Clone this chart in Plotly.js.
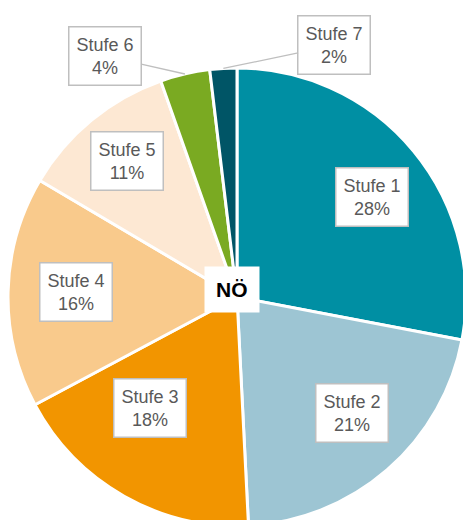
<!DOCTYPE html>
<html><head><meta charset="utf-8">
<script src="https://cdn.plot.ly/plotly-3.0.1.min.js"></script>
<style>html,body{margin:0;padding:0;overflow:hidden;background:#fff}</style>
</head><body><div id="chart" style="width:466px;height:526px"></div>
<script>
// ---- data ----
const categories = ["Stufe 1", "Stufe 2", "Stufe 3", "Stufe 4", "Stufe 5", "Stufe 6", "Stufe 7"];
const values = [28, 21.2, 18, 16.3, 11.1, 3.5, 1.9];
const percentLabels = ["28%", "21%", "18%", "16%", "11%", "4%", "2%"];
const centerLabel = "NÖ";

// ---- style / layout ----
const colors = ["#008FA3", "#9DC5D3", "#F29500", "#F9CA8C", "#FDE8D3", "#7AAA22", "#005566"];
const W = 466, H = 526, R = 229, CX = 237, CY = 297;
// label placement: [radius fraction, dx px, dy px, outside?]
const labelPlace = [
  [0.70, 11, 2, false], [0.70, 10, -5, false], [0.70, -8, -28, false],
  [0.70, -1, -1, false], [0.70, -8, -12, false],
  [1.0, -80, -18, true], [1.0, 111, -23, true]
];

const total = values.reduce((a, b) => a + b, 0);
let cum = 0;
const annotations = [];
values.forEach((v, i) => {
  const mid = cum + v / 2; cum += v;
  const ang = (90 - 360 * mid / total) * Math.PI / 180;
  const [f, dx, dy, outside] = labelPlace[i];
  const px = CX + R * f * Math.cos(ang), py = CY - R * f * Math.sin(ang);
  const base = {
    xref: "paper", yref: "paper",
    text: categories[i] + "<br>" + percentLabels[i],
    font: {family: "Liberation Sans, Arial, sans-serif", size: 18, color: "#595959"},
    bgcolor: "#FFFFFF", bordercolor: "#BFBFBF", borderwidth: 1.5, borderpad: 7
  };
  if (outside) {
    annotations.push(Object.assign(base, {
      x: px / W, y: 1 - py / H, showarrow: true, arrowhead: 0, arrowwidth: 1.3,
      arrowcolor: "#BFBFBF", ax: dx, ay: dy, standoff: 0
    }));
  } else {
    annotations.push(Object.assign(base, {
      x: (px + dx) / W, y: 1 - (py + dy) / H, showarrow: false,
      xanchor: "center", yanchor: "middle"
    }));
  }
});
annotations.push({
  xref: "paper", yref: "paper", x: (CX - 5) / W, y: 1 - (CY - 8) / H, showarrow: false,
  text: "<b>" + centerLabel + "</b>", xanchor: "center", yanchor: "middle",
  font: {family: "Liberation Sans, Arial, sans-serif", size: 21, color: "#000000"},
  bgcolor: "#FFFFFF", borderpad: 11
});

const trace = {
  type: "pie", labels: categories, values: values, sort: false, direction: "clockwise",
  rotation: 0, textinfo: "none", hoverinfo: "none",
  marker: {colors: colors, line: {color: "#FFFFFF", width: 3}},
  domain: {x: [(CX - R) / W, (CX + R) / W], y: [(H - (CY + R)) / H, (H - (CY - R)) / H]}
};

Plotly.newPlot("chart", [trace], {
  width: W, height: H, margin: {l: 0, r: 0, t: 0, b: 0},
  showlegend: false, paper_bgcolor: "#FFFFFF", annotations: annotations
}, {staticPlot: true});
</script></body></html>
